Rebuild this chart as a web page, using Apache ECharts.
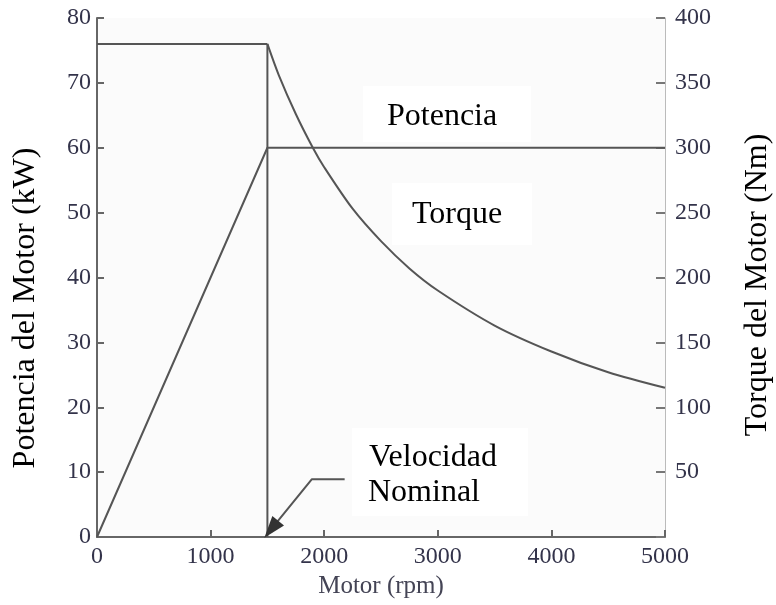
<!DOCTYPE html>
<html>
<head>
<meta charset="utf-8">
<script src="https://cdn.jsdelivr.net/npm/echarts@6/dist/echarts.min.js"></script>
<style>
  html, body { margin: 0; padding: 0; background: #fff; }
  #chart-container { width: 776px; height: 605px; }
</style>
</head>
<body>
<div id="chart-container"></div>
<script>
// rpm / kW / Nm
var powerRpm = [0, 1500, 5000];
var powerKw = [0, 60, 60];

var torqueFlatRpm = [0, 1500];
var torqueFlatNm = [380, 380];
var torqueRpm = [1500, 1600, 1750, 1900, 2000, 2250, 2500, 2750, 3000, 3500, 4000, 4500, 5000];
var torqueNm = [380, 356, 326, 300, 285, 253, 228, 207, 190, 163, 143, 127, 115];

var nominalRpm = 1500;
var nominalTop = 380;

// arrow pointing at the nominal speed (rpm, kW)
var arrowPath = [[2180, 8.9], [1890, 8.9], [1534, 1.2]];

var leftTicks = { min: 0, max: 80, interval: 10 };
var rightTicks = { min: 0, max: 400, interval: 50 };
var xTicks = { min: 0, max: 5000, interval: 1000 };

var dom = document.getElementById("chart-container");
var myChart = echarts.init(dom, null, { renderer: "canvas" });

var serif = "Liberation Serif";
var lineColor = "#555";
var labelStyle = { color: "#33334a", fontFamily: serif, fontSize: 24 };

function pairs(xs, ys) {
  return xs.map(function (x, i) {
    return [x, ys[i]];
  });
}

var option = {
  animation: false,
  backgroundColor: "#fff",
  grid: {
    left: 97,
    right: 111,
    top: 18,
    bottom: 68,
    outerBoundsMode: "none",
    containLabel: false,
    show: true,
    backgroundColor: "#fbfbfb",
    borderWidth: 0,
  },
  xAxis: {
    type: "value",
    min: xTicks.min,
    max: xTicks.max,
    interval: xTicks.interval,
    name: "Motor (rpm)",
    nameLocation: "middle",
    nameGap: 36,
    nameTextStyle: { color: "#444455", fontFamily: serif, fontSize: 25 },
    axisLine: { lineStyle: { color: "#666", width: 2 } },
    axisTick: { inside: true, length: 7, lineStyle: { color: "#666", width: 2 } },
    axisLabel: Object.assign(
      {
        margin: 8,
        formatter: function (v) {
          return String(v);
        },
      },
      labelStyle
    ),
    splitLine: { show: false },
  },
  yAxis: [
    {
      type: "value",
      min: leftTicks.min,
      max: leftTicks.max,
      interval: leftTicks.interval,
      axisLine: { show: true, lineStyle: { color: "#666", width: 2 } },
      axisTick: { show: true, inside: true, length: 7, lineStyle: { color: "#666", width: 2 } },
      axisLabel: Object.assign({ margin: 6 }, labelStyle),
      splitLine: { show: false },
    },
    {
      type: "value",
      position: "right",
      min: rightTicks.min,
      max: rightTicks.max,
      interval: rightTicks.interval,
      axisLine: { show: true, lineStyle: { color: "#bbb", width: 1 } },
      axisTick: { show: true, inside: true, length: 9, lineStyle: { color: "#777", width: 2 } },
      axisLabel: Object.assign(
        {
          margin: 10,
          formatter: function (v) {
            return v === 0 ? "" : String(v);
          },
        },
        labelStyle
      ),
      splitLine: { show: false },
    },
  ],
  series: [
    {
      name: "Potencia",
      type: "line",
      yAxisIndex: 0,
      data: pairs(powerRpm, powerKw),
      symbol: "none",
      lineStyle: { color: lineColor, width: 2 },
    },
    {
      name: "Torque plano",
      type: "line",
      yAxisIndex: 1,
      data: pairs(torqueFlatRpm, torqueFlatNm),
      symbol: "none",
      lineStyle: { color: lineColor, width: 2 },
    },
    {
      name: "Torque",
      type: "line",
      yAxisIndex: 1,
      data: pairs(torqueRpm, torqueNm),
      symbol: "none",
      smooth: 0.3,
      lineStyle: { color: lineColor, width: 2 },
    },
    {
      name: "Nominal",
      type: "line",
      yAxisIndex: 1,
      data: [
        [nominalRpm, 0],
        [nominalRpm, nominalTop],
      ],
      symbol: "none",
      lineStyle: { color: lineColor, width: 2 },
    },
    {
      name: "Flecha",
      type: "line",
      yAxisIndex: 0,
      data: arrowPath,
      symbol: "none",
      lineStyle: { color: lineColor, width: 2 },
      z: 3,
    },
    {
      name: "Punta",
      type: "scatter",
      yAxisIndex: 0,
      data: [arrowPath[arrowPath.length - 1]],
      symbol: "triangle",
      symbolSize: [15, 22],
      symbolRotate: 141,
      itemStyle: { color: "#333", opacity: 1 },
      z: 4,
    },
  ],
  graphic: [
    { type: "rect", shape: { x: 363, y: 86, width: 168, height: 56 }, style: { fill: "#fff" }, z: 1 },
    { type: "rect", shape: { x: 392, y: 183, width: 140, height: 62 }, style: { fill: "#fff" }, z: 1 },
    { type: "rect", shape: { x: 352, y: 428, width: 176, height: 88 }, style: { fill: "#fff" }, z: 1 },
    {
      type: "text", x: 387, y: 117, z: 10,
      style: { text: "Potencia", fill: "#000", font: "32px " + serif, textVerticalAlign: "middle" },
    },
    {
      type: "text", x: 412, y: 215, z: 10,
      style: { text: "Torque", fill: "#000", font: "32px " + serif, textVerticalAlign: "middle" },
    },
    {
      type: "text", x: 369, y: 458, z: 10,
      style: { text: "Velocidad", fill: "#000", font: "32px " + serif, textVerticalAlign: "middle" },
    },
    {
      type: "text", x: 368, y: 493, z: 10,
      style: { text: "Nominal", fill: "#000", font: "32px " + serif, textVerticalAlign: "middle" },
    },
    {
      type: "text", x: 26, y: 308, rotation: Math.PI / 2, z: 10,
      style: {
        text: "Potencia del Motor (kW)", fill: "#000", font: "32px " + serif,
        textAlign: "center", textVerticalAlign: "middle",
      },
    },
    {
      type: "text", x: 758, y: 285, rotation: Math.PI / 2, z: 10,
      style: {
        text: "Torque del Motor (Nm)", fill: "#000", font: "32px " + serif,
        textAlign: "center", textVerticalAlign: "middle",
      },
    },
  ],
};

myChart.setOption(option);
window.addEventListener("resize", myChart.resize);
</script>
</body>
</html>
